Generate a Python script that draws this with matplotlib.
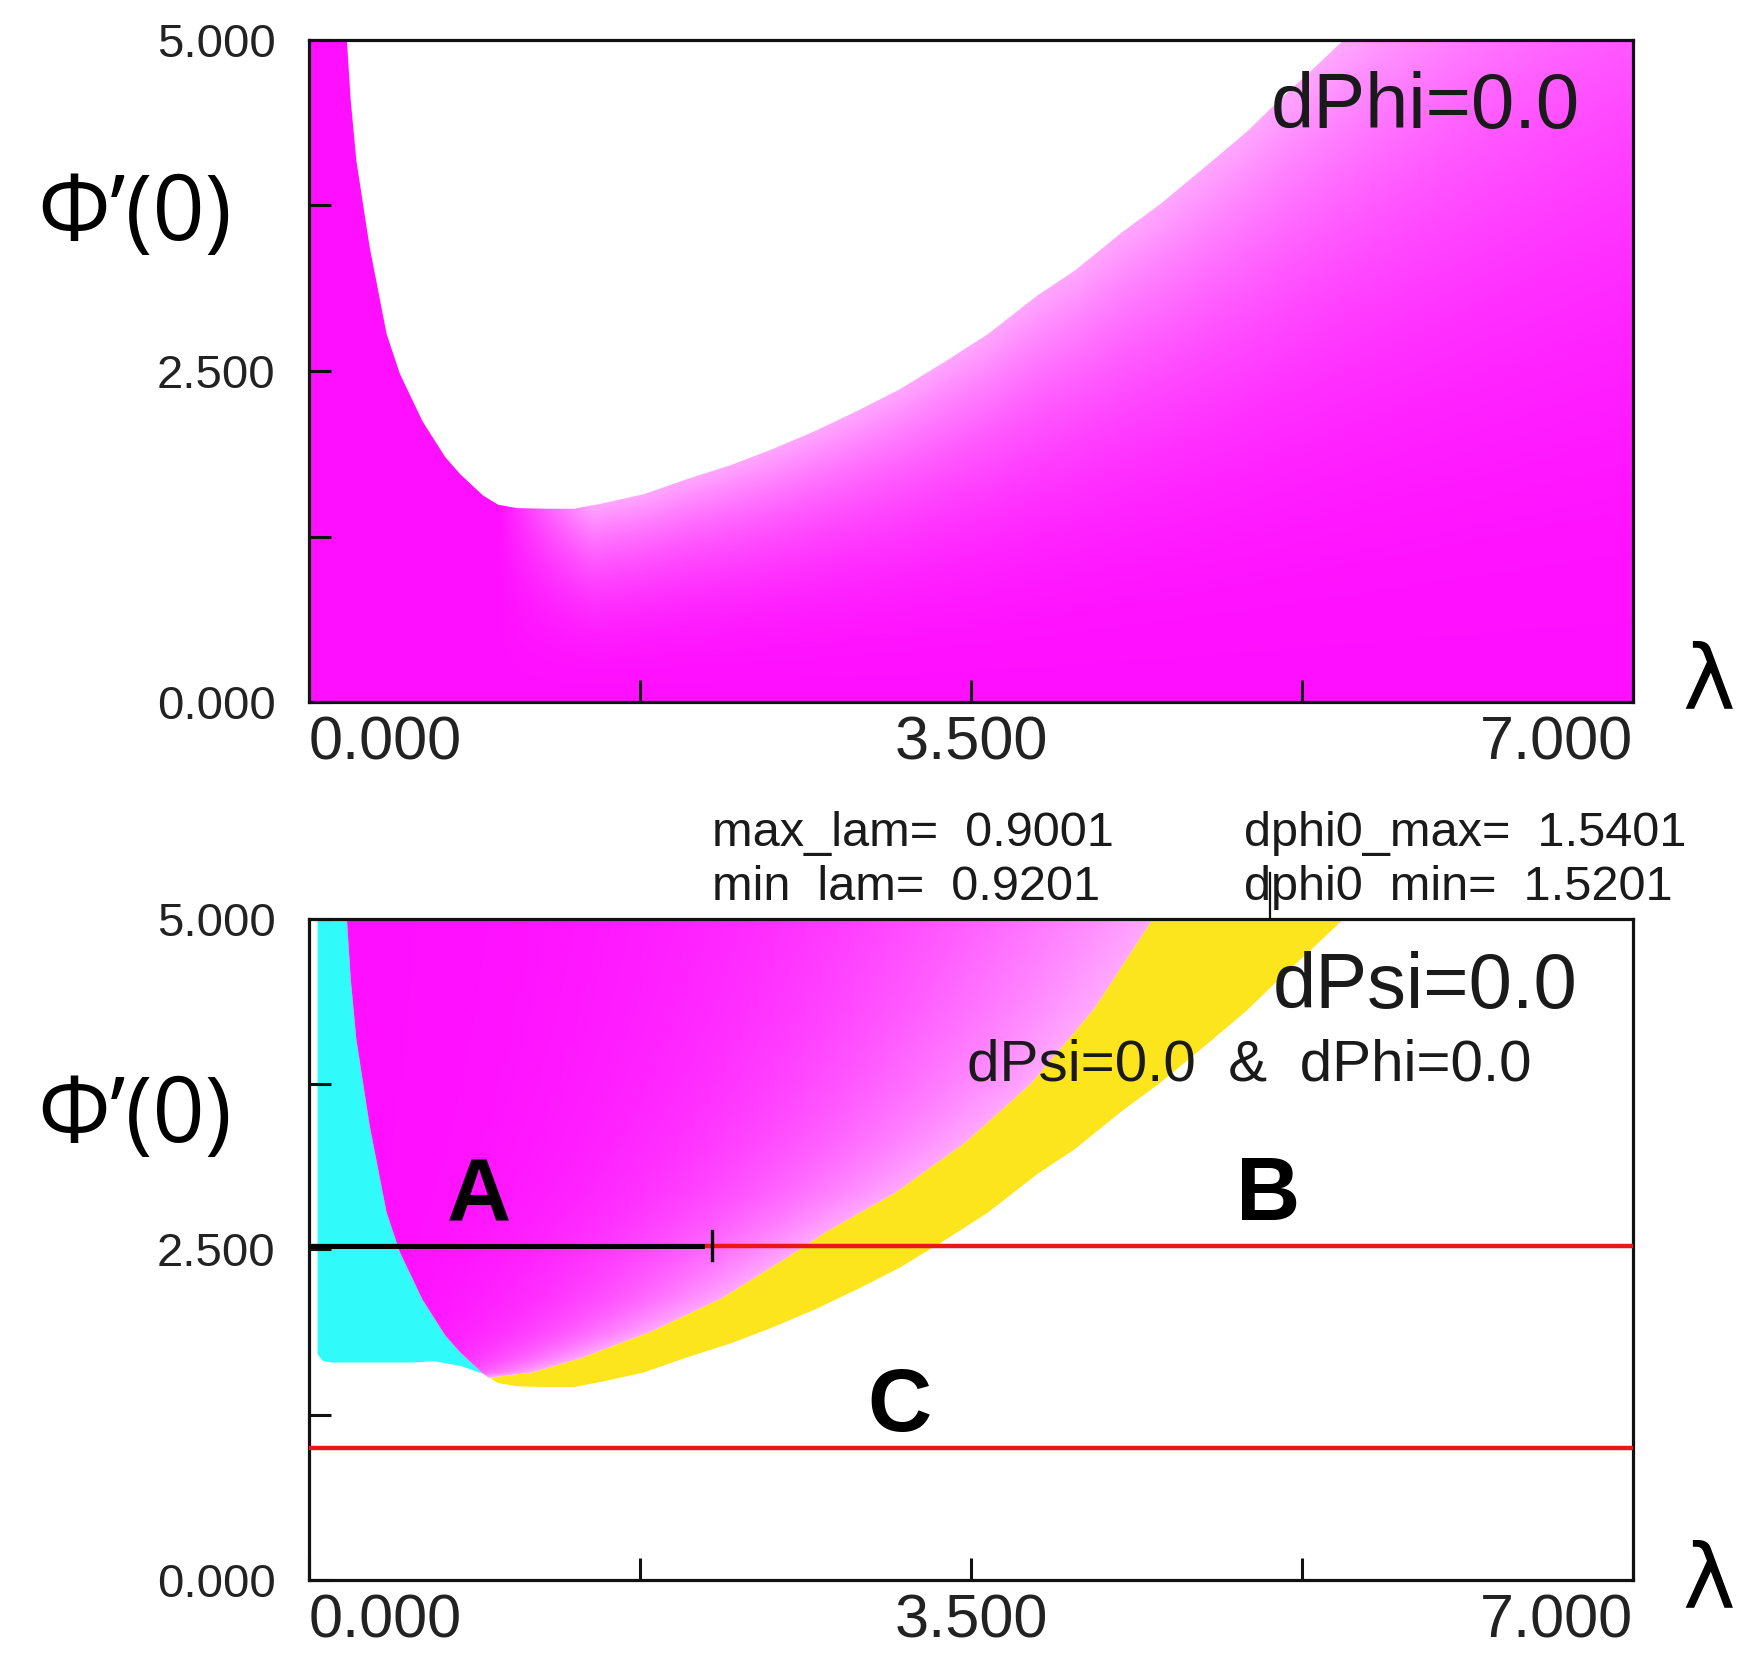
import numpy as np
import matplotlib
matplotlib.use('Agg')
import matplotlib.pyplot as plt
from matplotlib.patches import Polygon

# contorno dPhi=0 (lambda, phi'(0))
dphi_lam = [0.20, 0.22, 0.25, 0.32, 0.41, 0.48, 0.60, 0.72, 0.80, 0.92, 1.00, 1.10,
            1.25, 1.40, 1.55, 1.77, 1.99, 2.23, 2.45, 2.68, 2.90, 3.12, 3.35, 3.59,
            3.85, 4.05, 4.30, 4.50, 4.77, 4.96, 5.14, 5.30, 5.47]
dphi_phi = [5.00, 4.55, 4.09, 3.44, 2.78, 2.48, 2.12, 1.85, 1.72, 1.56, 1.49, 1.465,
            1.46, 1.46, 1.50, 1.57, 1.68, 1.79, 1.91, 2.05, 2.20, 2.36, 2.56, 2.78,
            3.07, 3.26, 3.55, 3.76, 4.08, 4.31, 4.56, 4.77, 5.00]
i_min = 12  # indice do minimo

# contorno dPsi=0 (fronteira magenta / amarelo)
dpsi_lam = [0.95, 1.18, 1.44, 1.81, 2.18, 2.55, 2.73, 3.10, 3.47, 3.82, 4.15, 4.46]
dpsi_phi = [1.53, 1.57, 1.68, 1.88, 2.13, 2.46, 2.63, 2.93, 3.31, 3.76, 4.32, 5.00]

# regiao ciano (borda esquerda e de baixo)
cyan_lam = [0.045, 0.045, 0.07, 0.12, 0.55, 0.66, 0.80, 0.92]
cyan_phi = [5.00, 1.71, 1.66, 1.645, 1.645, 1.655, 1.62, 1.56]

# linhas horizontais
red_levels = [2.53, 1.0]
seg_lam = [0.0, 2.08]
seg_tick = 2.13

# textos
yticks = [0, 1.25, 2.5, 3.75, 5]
ytick_labels = ['0.000', '', '2.500', '', '5.000']
xticks = [0, 1.75, 3.5, 5.25, 7]
xtick_labels = ['0.000', '', '3.500', '', '7.000']
letters = [('A', 0.90, 2.71), ('B', 5.07, 2.72), ('C', 3.12, 1.13)]
header = [('max_lam=  0.9001', 0.4062, 0.5012), ('min  lam=  0.9201', 0.4062, 0.4689),
          ('dphi0_max=  1.5401', 0.7096, 0.5012), ('dphi0  min=  1.5201', 0.7096, 0.4689)]

MAG = np.array([1.0, 0.06, 1.0])
PINK = np.array([1.0, 0.66, 1.0])
CYAN = '#30fbfa'
YELLOW = '#fde51e'
RED = '#e81818'

fig = plt.figure(figsize=(17.53, 16.72), dpi=100)
ax1 = fig.add_axes([0.1763, 0.5801, 0.7553, 0.396])
ax2 = fig.add_axes([0.1763, 0.0550, 0.7553, 0.3954])

lam = np.linspace(0, 7, 800)
phi = np.linspace(0, 5, 600)
L, P = np.meshgrid(lam, phi)


def shade(light):
    light = np.clip(light, 0, 1)[..., None]
    return MAG * (1 - light) + PINK * light


def style(ax):
    ax.set_xlim(0, 7)
    ax.set_ylim(0, 5)
    for s in ax.spines.values():
        s.set_linewidth(2.3)
        s.set_color('#111111')
    ax.set_yticks(yticks)
    ax.set_yticklabels(ytick_labels, fontsize=34, family='Liberation Sans', color='#222222')
    ax.set_xticks(xticks)
    ax.set_xticklabels(xtick_labels, fontsize=44, family='Liberation Sans', color='#222222')
    ax.tick_params(axis='both', direction='in', length=16, width=2.2, color='#111111')
    ax.tick_params(axis='y', pad=24)
    ax.tick_params(axis='x', pad=10)
    lbls = ax.get_xticklabels()
    lbls[0].set_ha('left')
    lbls[-1].set_ha('right')


# ---------------- painel de cima: dPhi=0 ----------------
rx = np.array(dphi_lam[i_min:])
ry = np.array(dphi_phi[i_min:])
slope = (ry[-1] - ry[-3]) / (rx[-1] - rx[-3])
bound = np.interp(L, rx, ry)
bound = np.where(L > rx[-1], ry[-1] + slope * (L - rx[-1]), bound)
w = np.clip((L - 1.0) / 0.5, 0, 1)
img1 = shade(w * np.clip(P / bound, 0, 1) ** 2.2)

verts1 = [(0, 0), (0, 5)] + list(zip(dphi_lam, dphi_phi)) + [(7, 5), (7, 0)]
poly1 = Polygon(verts1, closed=True, facecolor='none', edgecolor='none')
ax1.add_patch(poly1)
im1 = ax1.imshow(img1, extent=[0, 7, 0, 5], origin='lower', aspect='auto',
                 interpolation='bilinear', zorder=1)
im1.set_clip_path(poly1)
ax1.text(5.9, 4.49, 'dPhi=0.0', fontsize=56, family='Liberation Sans',
         color='#1a1a1a', ha='center', va='center', zorder=5)
style(ax1)

# ---------------- painel de baixo: dPsi=0 ----------------
left_lam = dphi_lam[:10]
left_phi = dphi_phi[:10]
verts_c = list(zip(cyan_lam, cyan_phi)) + list(zip(left_lam, left_phi))[::-1]
ax2.add_patch(Polygon(verts_c, closed=True, facecolor=CYAN, edgecolor='none', zorder=1))

# amarelo: entre dPsi e dPhi
outer = list(zip(dphi_lam[9:], dphi_phi[9:]))
verts_y = outer + list(zip(dpsi_lam, dpsi_phi))[::-1]
ax2.add_patch(Polygon(verts_y, closed=True, facecolor=YELLOW, edgecolor='none', zorder=1))

# magenta: dPsi=0 & dPhi=0
inner_l = np.interp(P, dpsi_phi, dpsi_lam)
img2 = shade(np.clip(L / inner_l, 0, 1) ** 2.6)
verts_m = list(zip(dphi_lam[:10], dphi_phi[:10])) + list(zip(dpsi_lam, dpsi_phi))
poly2 = Polygon(verts_m, closed=True, facecolor='none', edgecolor='none')
ax2.add_patch(poly2)
im2 = ax2.imshow(img2, extent=[0, 7, 0, 5], origin='lower', aspect='auto',
                 interpolation='bilinear', zorder=2)
im2.set_clip_path(poly2)

for lv in red_levels:
    ax2.axhline(lv, color=RED, lw=3.2, zorder=3)
ax2.plot(seg_lam, [red_levels[0]] * 2, color='black', lw=3.6, zorder=4)
ax2.plot([seg_tick, seg_tick], [red_levels[0] - 0.11, red_levels[0] + 0.11],
         color='black', lw=2.4, zorder=4)
ax2.plot([5.08, 5.08], [5.0, 5.35], color='#111111', lw=1.6, clip_on=False, zorder=6)

ax2.text(5.9, 4.48, 'dPsi=0.0', fontsize=56, family='Liberation Sans',
         color='#1a1a1a', ha='center', va='center', zorder=5)
ax2.text(4.97, 3.89, 'dPsi=0.0  &  dPhi=0.0', fontsize=42, family='Liberation Sans',
         color='#1a1a1a', ha='center', va='center', zorder=5)
for t, x, y in letters:
    ax2.text(x, y, t, fontsize=64, family='Liberation Sans', fontweight='bold',
             ha='center', va='baseline', zorder=5)
style(ax2)

for t, x, y in header:
    fig.text(x, y, t, fontsize=35, family='Liberation Sans', color='#1a1a1a',
             ha='left', va='center')

# rotulos dos eixos
for yc in [0.8708, 0.3313]:
    fig.text(0.077, yc, 'Φ’(0)', fontsize=66, family='Open Sans', ha='center', va='center')
for yc in [0.5909, 0.0532]:
    fig.text(0.9745, yc, 'λ', fontsize=64, family='DejaVu Sans', ha='center', va='center')

fig.savefig('out.png', dpi=100)
